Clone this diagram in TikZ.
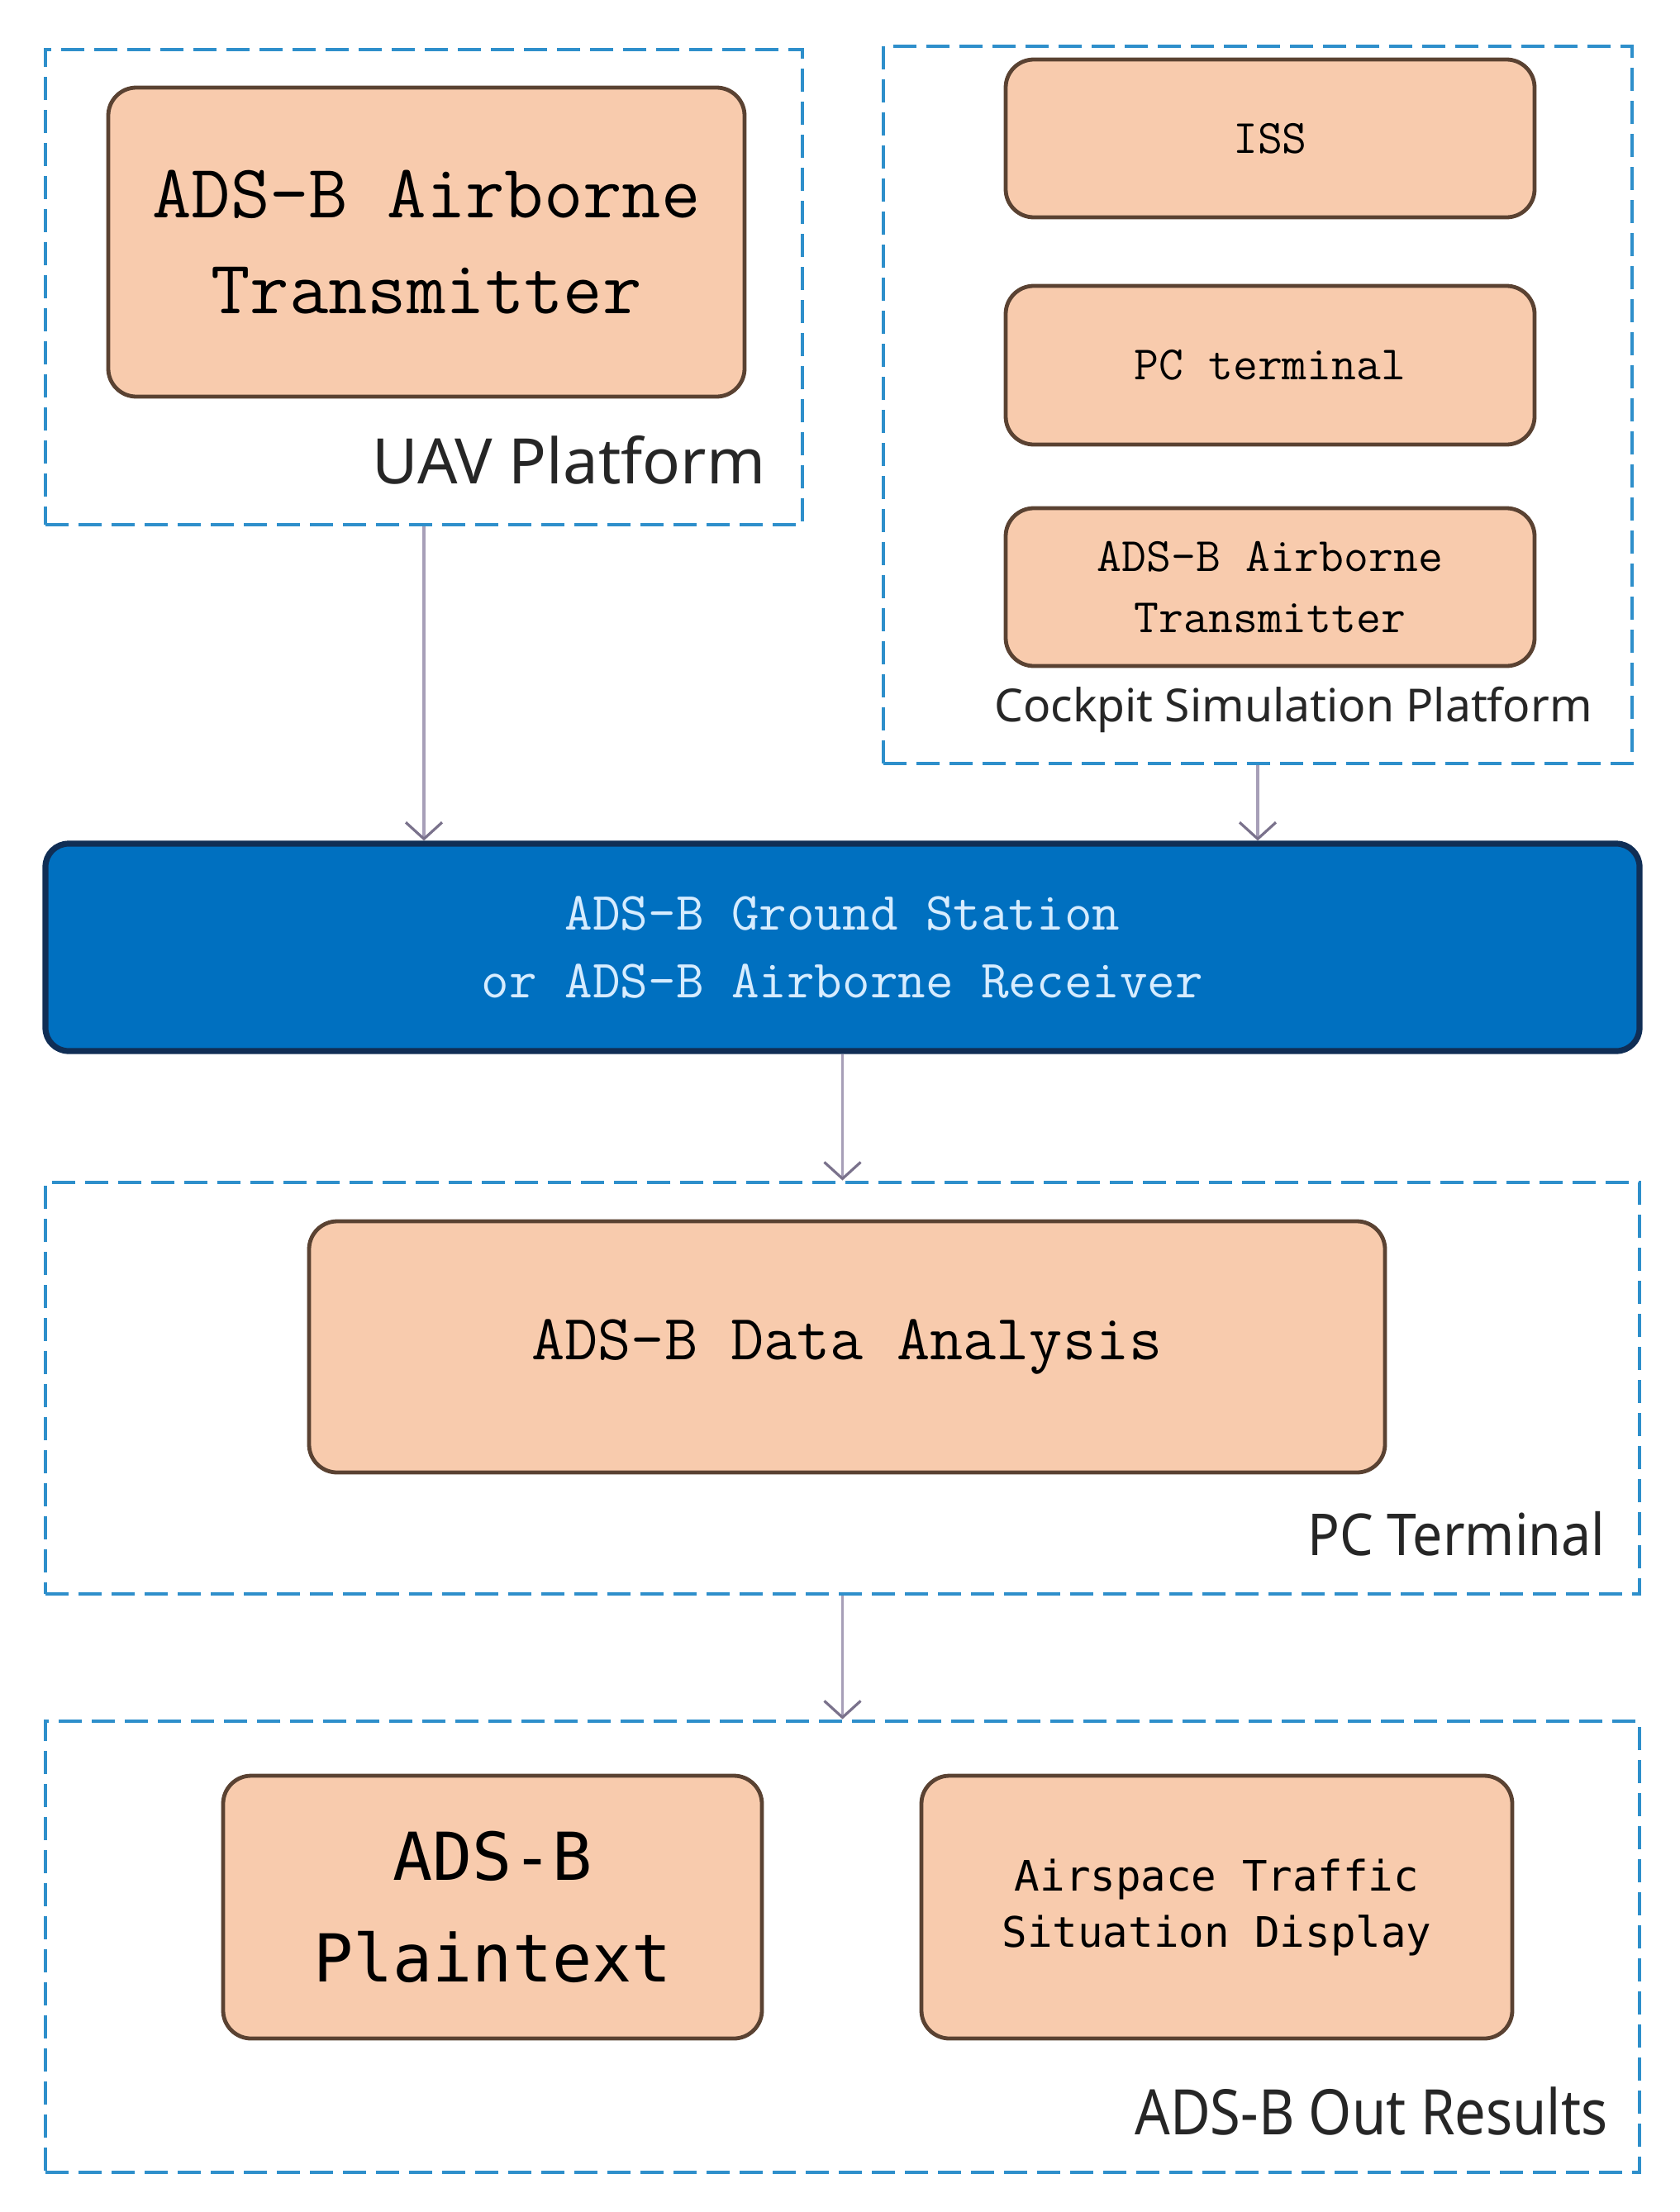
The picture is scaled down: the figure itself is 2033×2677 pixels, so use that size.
\documentclass[tikz,border=0pt]{standalone}
\usepackage{fontspec}
\usepackage{graphicx}
\usetikzlibrary{arrows.meta}
\newfontfamily\lblfont{Noto Sans}
\newfontfamily\smono{DejaVu Sans Mono}
\definecolor{peach}{HTML}{F8CBAD}
\definecolor{peachedge}{HTML}{5A4232}
\definecolor{dashblue}{HTML}{2E8FCB}
\definecolor{gsblue}{HTML}{0070C0}
\definecolor{gsedge}{HTML}{102E55}
\definecolor{gstext}{HTML}{D6ECFF}
\definecolor{arrowcol}{HTML}{A79FB8}
\definecolor{tipcol}{HTML}{7A728C}
\begin{document}
\begin{tikzpicture}[x=0.25pt,y=-0.25pt,
  container/.style={draw=dashblue, line width=1.2pt, dash pattern=on 7pt off 3pt, inner sep=0pt},
  peachbox/.style={draw=peachedge, fill=peach, line width=1.2pt, rounded corners=8.5pt, inner sep=0pt, align=center, text=black},
  gsbox/.style={draw=gsedge, fill=gsblue, line width=1.8pt, rounded corners=7pt, inner sep=0pt, align=center, text=gstext},
  lbl/.style={inner sep=0pt, text=black!85},
  flow/.style={draw=arrowcol, line width=0.9pt, -{Straight Barb[length=5pt,width=11pt,line width=0.8pt,color=tipcol]}}
]
\useasboundingbox (0,0) rectangle (2033,2677);
\fill[white] (0,0) rectangle (2033,2677);

% UAV platform
\node[container, minimum width=229pt, minimum height=143.75pt] (uavp) at (513,347.5) {};
\node[peachbox, minimum width=192.5pt, minimum height=93.5pt,
  font={\ttfamily\fontsize{23}{29}\selectfont}] (uavtx) at (516,293)
  {ADS-B Airborne\\Transmitter};
\node[lbl, anchor=east, font={\lblfont\fontsize{19}{22}\selectfont}] (uavlbl) at (927,557) {UAV Platform};

% Cockpit simulation platform
\node[container, minimum width=226.5pt, minimum height=217pt] (cockpit) at (1522,490) {};
\node[peachbox, minimum width=160pt, minimum height=47.75pt,
  font={\ttfamily\fontsize{14.5}{18}\selectfont}] (iss) at (1537,167.5) {ISS};
\node[peachbox, minimum width=160pt, minimum height=48pt,
  font={\ttfamily\fontsize{14.5}{18}\selectfont}] (pct) at (1537,442) {PC terminal};
\node[peachbox, minimum width=160pt, minimum height=47.75pt,
  font={\ttfamily\fontsize{14.5}{18.3}\selectfont}] (cptx) at (1537,710.5) {ADS-B Airborne\\Transmitter};
\node[lbl, font={\lblfont\fontsize{13.8}{16}\selectfont}] (cocklbl) at (1565,859) {Cockpit Simulation Platform};

% Ground station
\node[gsbox, minimum width=482.25pt, minimum height=62.75pt,
  font={\ttfamily\fontsize{16.3}{20.5}\selectfont}] (gs) at (1019.5,1146.5)
  {ADS-B Ground Station\\or ADS-B Airborne Receiver};

% PC terminal
\node[container, minimum width=482.25pt, minimum height=124.5pt] (pcterm) at (1019.5,1680) {};
\node[peachbox, minimum width=325.5pt, minimum height=76pt,
  font={\ttfamily\fontsize{19.5}{24}\selectfont}] (analysis) at (1025,1630) {ADS-B Data Analysis};
\node[lbl, anchor=east, font={\lblfont\fontsize{17.5}{21}\selectfont}] (pclbl) at (1943,1856)
  {\scalebox{0.92}[1]{PC Terminal}};

% ADS-B Out results
\node[container, minimum width=482.25pt, minimum height=136.5pt] (outres) at (1019.5,2356) {};
\node[peachbox, minimum width=163pt, minimum height=79.5pt,
  font={\smono\fontsize{20}{30.7}\selectfont}] (plain) at (596,2308) {ADS-B\\Plaintext};
\node[peachbox, minimum width=178.75pt, minimum height=79.5pt,
  font={\smono\fontsize{12.7}{17}\selectfont}] (airspace) at (1472.5,2308) {Airspace Traffic\\Situation Display};
\node[lbl, anchor=east, font={\lblfont\fontsize{19}{22}\selectfont}] (outlbl) at (1946,2555)
  {\scalebox{0.88}[1]{ADS-B Out Results}};

% connectors
\draw[flow] (uavp.south) -- (uavp.south |- gs.north);
\draw[flow] (cockpit.south) -- (cockpit.south |- gs.north);
\draw[flow] (gs.south) -- (pcterm.north);
\draw[flow] (pcterm.south) -- (outres.north);
\end{tikzpicture}
\end{document}
